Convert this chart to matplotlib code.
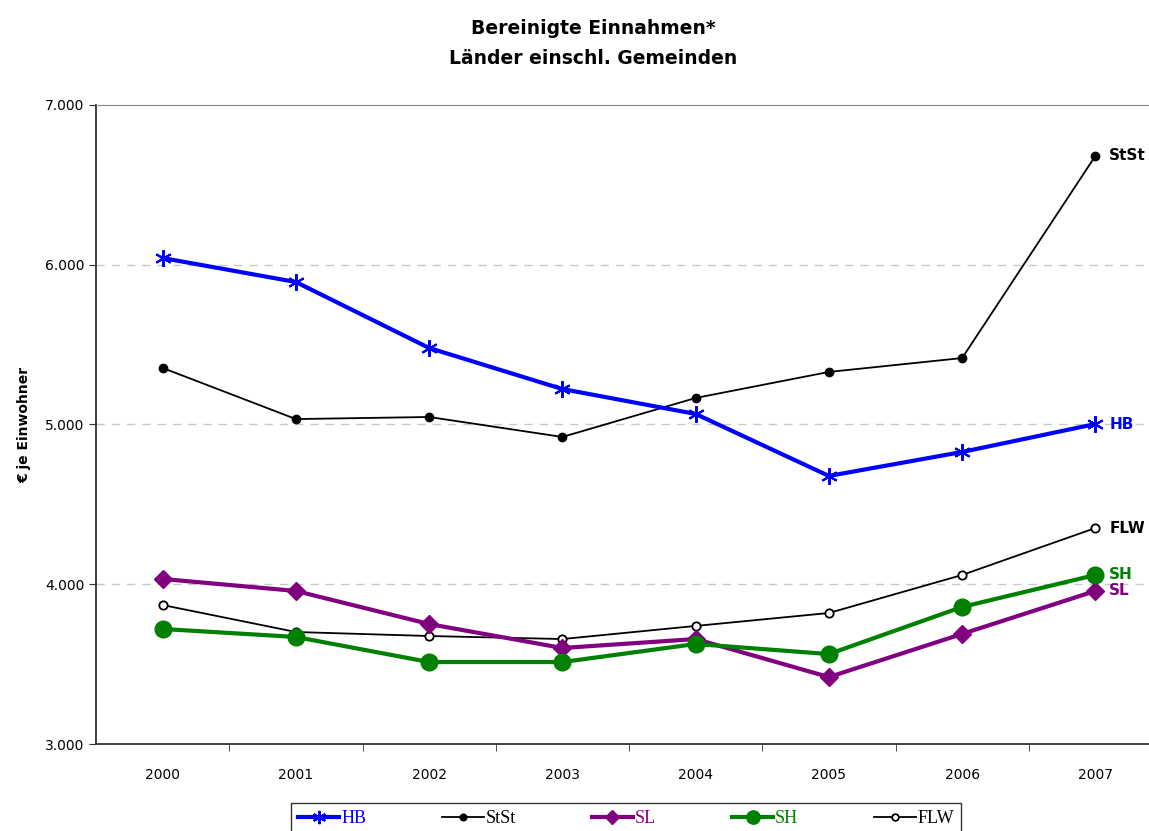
import matplotlib
matplotlib.use('Agg')

import numpy as np
import matplotlib.pyplot as plt
from matplotlib.ticker import FuncFormatter

years = ['2000', '2001', '2002', '2003', '2004', '2005', '2006', '2007']

hb = [6042, 5892, 5479, 5222, 5066, 4678, 4828, 5003]
stst = [5354, 5034, 5047, 4922, 5166, 5329, 5416, 6681]
sl = [4033, 3958, 3751, 3601, 3657, 3419, 3689, 3958]
sh = [3720, 3670, 3513, 3513, 3626, 3563, 3858, 4058]
flw = [3870, 3701, 3676, 3657, 3739, 3820, 4058, 4352]

W, H = 1149, 831
fig = plt.figure(figsize=(W / 100, H / 100), dpi=100)
# plot area runs past the right edge of the picture, as in the original
ax = fig.add_axes([96 / W, 1 - 744 / H, (1162 - 96) / W, (744 - 105) / H])

x = np.arange(len(years))

ax.plot(x, hb, color='#0000FF', lw=3, marker=(6, 2, 0), ms=12, mew=1.5, label='HB', zorder=5)
ax.plot(x, stst, color='black', lw=1.3, marker='o', ms=6, label='StSt', zorder=4)
ax.plot(x, sl, color='#800080', lw=3, marker='D', ms=9, label='SL', zorder=5)
ax.plot(x, sh, color='#008000', lw=3, marker='o', ms=12, label='SH', zorder=5)
ax.plot(x, flw, color='black', lw=1.3, marker='o', ms=6, mfc='white', mew=1.3, label='FLW', zorder=4)

# end labels
ends = [('StSt', stst, 'black'), ('HB', hb, '#0000FF'), ('FLW', flw, 'black'),
        ('SH', sh, '#008000'), ('SL', sl, '#800080')]
for name, vals, col in ends:
    ax.annotate(name, (x[-1], vals[-1]), xytext=(10, 0), textcoords='offset points',
                color=col, fontsize=11, fontweight='bold', va='center', ha='left')

ax.set_xlim(-0.5, 7.5)
ax.set_ylim(3000, 7000)
ax.set_yticks([3000, 4000, 5000, 6000, 7000])
ax.yaxis.set_major_formatter(FuncFormatter(lambda v, p: f'{int(v):,}'.replace(',', '.')))
ax.set_xticks(x)
ax.set_xticklabels(years)
ax.set_xticks(np.arange(0.5, 7.5, 1), minor=True)
ax.tick_params(axis='x', which='major', length=0, pad=17, labelsize=10)
ax.tick_params(axis='x', which='minor', length=5, direction='out', color='#333333')
ax.tick_params(axis='y', length=5, direction='out', color='#333333', labelsize=10)

for v in [4000, 5000, 6000]:
    ax.axhline(v, color='#C8C8C8', lw=1, ls=(0, (6, 5)), zorder=1)

ax.spines['right'].set_visible(False)
ax.spines['top'].set_color('#888888')
ax.spines['left'].set_color('#333333')
ax.spines['bottom'].set_color('#333333')
ax.spines['left'].set_linewidth(1.3)
ax.spines['bottom'].set_linewidth(1.3)

ax.set_ylabel('€ je Einwohner', fontsize=10, fontweight='bold', labelpad=10)

fig.text(593 / W, 1 - 28 / H, 'Bereinigte Einnahmen*', ha='center', va='center',
         fontsize=13.5, fontweight='bold')
fig.text(593 / W, 1 - 58 / H, 'Länder einschl. Gemeinden', ha='center', va='center',
         fontsize=13.5, fontweight='bold')

leg = fig.legend(loc='upper center', bbox_to_anchor=(626 / W, 1 - 803 / H), ncol=5,
                 frameon=True, fancybox=False, edgecolor='black', handlelength=2.3,
                 handletextpad=0.1, columnspacing=4.2, borderpad=0.4, borderaxespad=0,
                 markerscale=0.8, prop={'family': 'Liberation Serif', 'size': 13})
leg.get_frame().set_linewidth(1)
for t, c in zip(leg.get_texts(), ['#0000FF', 'black', '#800080', '#008000', 'black']):
    t.set_color(c)

plt.savefig('out.png', dpi=100)
